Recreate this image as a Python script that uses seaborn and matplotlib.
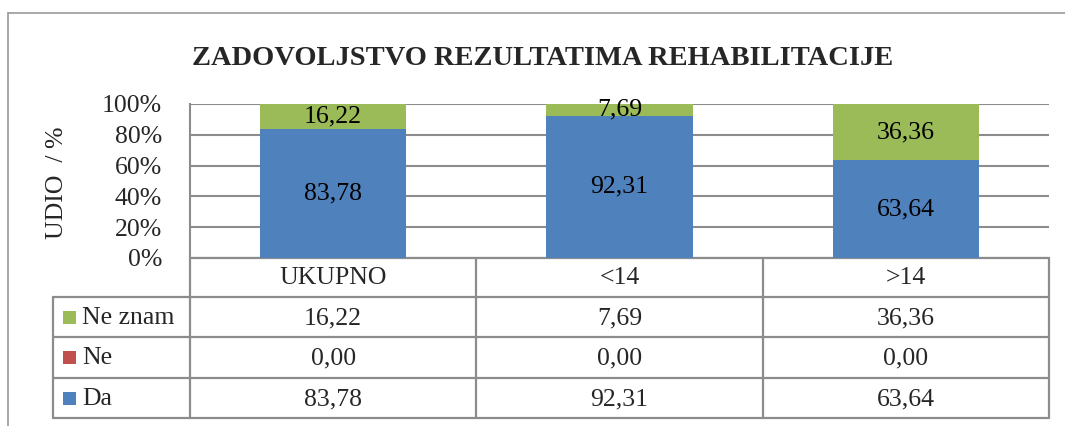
import numpy as np
import pandas as pd
import matplotlib
matplotlib.use("Agg")
import matplotlib.pyplot as plt
import seaborn as sns
from matplotlib.lines import Line2D
from matplotlib.patches import Rectangle

# ---------------- data ----------------
categories = ["UKUPNO", "<14", ">14"]
da = [83.78, 92.31, 63.64]
ne = [0.00, 0.00, 0.00]
ne_znam = [16.22, 7.69, 36.36]
series_stack = ["Da", "Ne", "Ne znam"]          # bottom -> top
table_rows = ["Ne znam", "Ne", "Da"]             # table order top -> bottom
y_ticks = [0, 20, 40, 60, 80, 100]
title = "ZADOVOLJSTVO REZULTATIMA REHABILITACIJE"
ylabel = "UDIO  / %"

colors = {"Da": "#4F81BD", "Ne": "#C0504D", "Ne znam": "#9BBB59"}
values = {"Da": da, "Ne": ne, "Ne znam": ne_znam}

sns.set_theme(style="white")
plt.rcParams["font.family"] = ["Liberation Serif", "DejaVu Serif"]

LINE = "#8C8C8C"
W, H = 1065, 426
fig = plt.figure(figsize=(W / 100, H / 100), dpi=100)
fig.patch.set_facecolor("white")

# pixel-space overlay for frame / table
over = fig.add_axes([0, 0, 1, 1], zorder=0)
over.set_xlim(0, W)
over.set_ylim(H, 0)
over.axis("off")

# plot area
PL, PR, PT, PB = 190, 1049, 104, 258
ax = fig.add_axes([PL / W, 1 - PB / H, (PR - PL) / W, (PB - PT) / H], zorder=2)
ax.set_facecolor("none")

df = pd.DataFrame({"cat": categories, **values})
bottom = np.zeros(len(categories))
containers = {}
for name in series_stack:
    sns.barplot(data=df, x="cat", y=name, color=colors[name], width=0.51,
                bottom=bottom, ax=ax, saturation=1, linewidth=0, zorder=3)
    containers[name] = ax.containers[-1]
    bottom = bottom + df[name].values

FS = 18.5
for name in ["Da", "Ne znam"]:
    labs = [f"{v:.2f}".replace(".", ",") for v in values[name]]
    ax.bar_label(containers[name], labels=labs, label_type="center",
                 fontsize=FS, color="black", zorder=4)

ax.set_xlim(-0.5, len(categories) - 0.5)
ax.set_ylim(0, 100)
ax.set_yticks(y_ticks)
ax.set_yticklabels([f"{t}%" for t in y_ticks], fontsize=FS)
ax.tick_params(axis="y", length=0, pad=20)
ax.set_xticks([])
ax.set_xlabel("")
ax.set_ylabel("")
ax.yaxis.grid(True, color=LINE, linewidth=1.5, zorder=0)
ax.set_axisbelow(True)
for s in ["top", "right", "bottom"]:
    ax.spines[s].set_visible(False)
ax.spines["left"].set_color(LINE)
ax.spines["left"].set_linewidth(1.5)

# y label
fig.text(57 / W, 1 - 183 / H, ylabel, rotation=90, ha="center", va="center",
         fontsize=FS)

# title
fig.text(543 / W, 1 - 65 / H, title, ha="center", va="baseline",
         fontsize=20.5, fontweight="bold")

# outer frame
over.add_line(Line2D([8, W], [13, 13], color="#999999", lw=1.2))
over.add_line(Line2D([8, 8], [13, H], color="#999999", lw=1.2))

# data table
TL = 53
ncat = len(categories)
col_edges = [PL + i * (PR - PL) / ncat for i in range(ncat + 1)]
row_edges = [PB, 297, 337, 378, 418]
lw = 1.6
# category row
over.add_line(Line2D([PL, PR], [PB, PB], color=LINE, lw=lw))
for x in col_edges:
    over.add_line(Line2D([x, x], [PB, row_edges[-1]], color=LINE, lw=lw))
for y in row_edges[1:]:
    over.add_line(Line2D([TL, PR], [y, y], color=LINE, lw=lw))
over.add_line(Line2D([TL, TL], [row_edges[1], row_edges[-1]], color=LINE, lw=lw))

for i, cat in enumerate(categories):
    cx = (col_edges[i] + col_edges[i + 1]) / 2
    over.text(cx, (row_edges[0] + row_edges[1]) / 2 + 1, cat, ha="center",
              va="center", fontsize=FS)

for r, name in enumerate(table_rows):
    y0, y1 = row_edges[r + 1], row_edges[r + 2]
    cy = (y0 + y1) / 2
    over.add_patch(Rectangle((63, cy - 6.5), 13, 13, facecolor=colors[name],
                             edgecolor="none"))
    over.text(82, cy + 1, name, ha="left", va="center", fontsize=FS)
    for i, v in enumerate(values[name]):
        cx = (col_edges[i] + col_edges[i + 1]) / 2
        over.text(cx, cy + 1, f"{v:.2f}".replace(".", ","), ha="center",
                  va="center", fontsize=FS)

fig.savefig("out.png", dpi=100)
